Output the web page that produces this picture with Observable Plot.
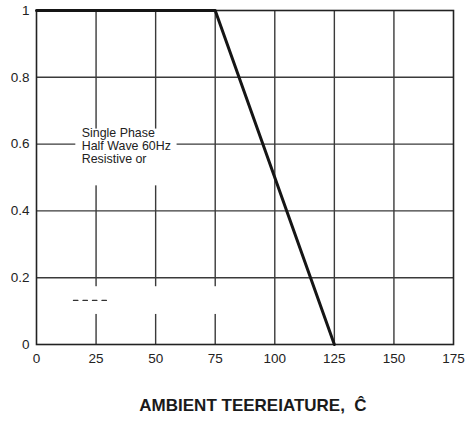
<!DOCTYPE html>
<html>
<head>
<meta charset="utf-8">
<script src="https://cdn.jsdelivr.net/npm/d3@7"></script>
<script src="https://cdn.jsdelivr.net/npm/@observablehq/plot@0.6"></script>
<style>
  html, body { margin: 0; padding: 0; background: #fff; }
  #wrap { position: relative; width: 468px; height: 423px; font-family: "Liberation Sans", Arial, sans-serif; }
  #title { position: absolute; left: 0; top: 396px; width: 468px; text-align: center; padding-left: 38px; box-sizing: border-box;
           font-weight: bold; font-size: 17px; color: #1a1a1a; }
</style>
</head>
<body>
<div id="wrap"><div id="chart"></div><div id="title">AMBIENT TEEREIATURE,&nbsp; Ĉ</div></div>
<script>
// Derating curve
const temps = [0, 75, 125];
const ratio = [1, 1, 0];

// Axis ticks
const xTicks = [0, 25, 50, 75, 100, 125, 150, 175];
const yTicks = [0, 0.2, 0.4, 0.6, 0.8, 1];
const yTickLabels = ["0", "0.2", "0.4", "0.6", "0.8", "1"];

// Grid lines (inner)
const xGrid = [25, 50, 75, 100, 125, 150];
const yGrid = [0.2, 0.4, 0.6, 0.8];

// Annotation text block
const noteText = ["Single Phase\nHalf Wave 60Hz\nResistive or"];
const noteX = [19];
const noteY = [0.63];

// White boxes behind annotations (x1, x2, y1, y2)
const maskX1 = [16.5, 4];
const maskX2 = [59, 77];
const maskY1 = [0.475, 0.09];
const maskY2 = [0.645, 0.173];

// Legend dashed sample
const dashX = [15.5, 31];
const dashY = [0.132, 0.132];

const curve = temps.map((t, i) => ({t, r: ratio[i]}));
const masks = maskX1.map((_, i) => ({x1: maskX1[i], x2: maskX2[i], y1: maskY1[i], y2: maskY2[i]}));
const dash = dashX.map((x, i) => ({x, y: dashY[i]}));
const notes = noteText.map((s, i) => ({s, x: noteX[i], y: noteY[i]}));

const chart = Plot.plot({
  width: 468,
  height: 375,
  marginLeft: 36,
  marginRight: 15,
  marginTop: 10,
  marginBottom: 31,
  style: {fontFamily: "Liberation Sans, Arial, sans-serif", fontSize: "13.5px", color: "#222", background: "#fff"},
  x: {domain: [0, 175], ticks: xTicks, label: null},
  y: {domain: [0, 1], ticks: yTicks, label: null},
  marks: [
    Plot.ruleX(xGrid, {stroke: "#3a3a3a", strokeWidth: 1.4}),
    Plot.ruleY(yGrid, {stroke: "#3a3a3a", strokeWidth: 1.4}),
    Plot.rect(masks, {x1: "x1", x2: "x2", y1: "y1", y2: "y2", fill: "#fff"}),
    Plot.frame({stroke: "#222", strokeWidth: 1.6}),
    Plot.line(dash, {x: "x", y: "y", stroke: "#333", strokeWidth: 1.2, strokeDasharray: "4.5,5"}),
    Plot.text(notes, {x: "x", y: "y", text: "s", textAnchor: "start", lineAnchor: "top", lineHeight: 1.03, fontSize: 12.4, fill: "#222", dy: -6}),
    Plot.line(curve, {x: "t", y: "r", stroke: "#151515", strokeWidth: 3}),
    Plot.axisX({ticks: xTicks, tickSize: 0, tickPadding: 9, label: null, fill: "#222"}),
    Plot.axisY({ticks: yTicks, tickSize: 0, tickPadding: 7, label: null, fill: "#222",
      tickFormat: (d) => yTickLabels[yTicks.indexOf(d)]})
  ]
});
document.getElementById("chart").appendChild(chart);
</script>
</body>
</html>
